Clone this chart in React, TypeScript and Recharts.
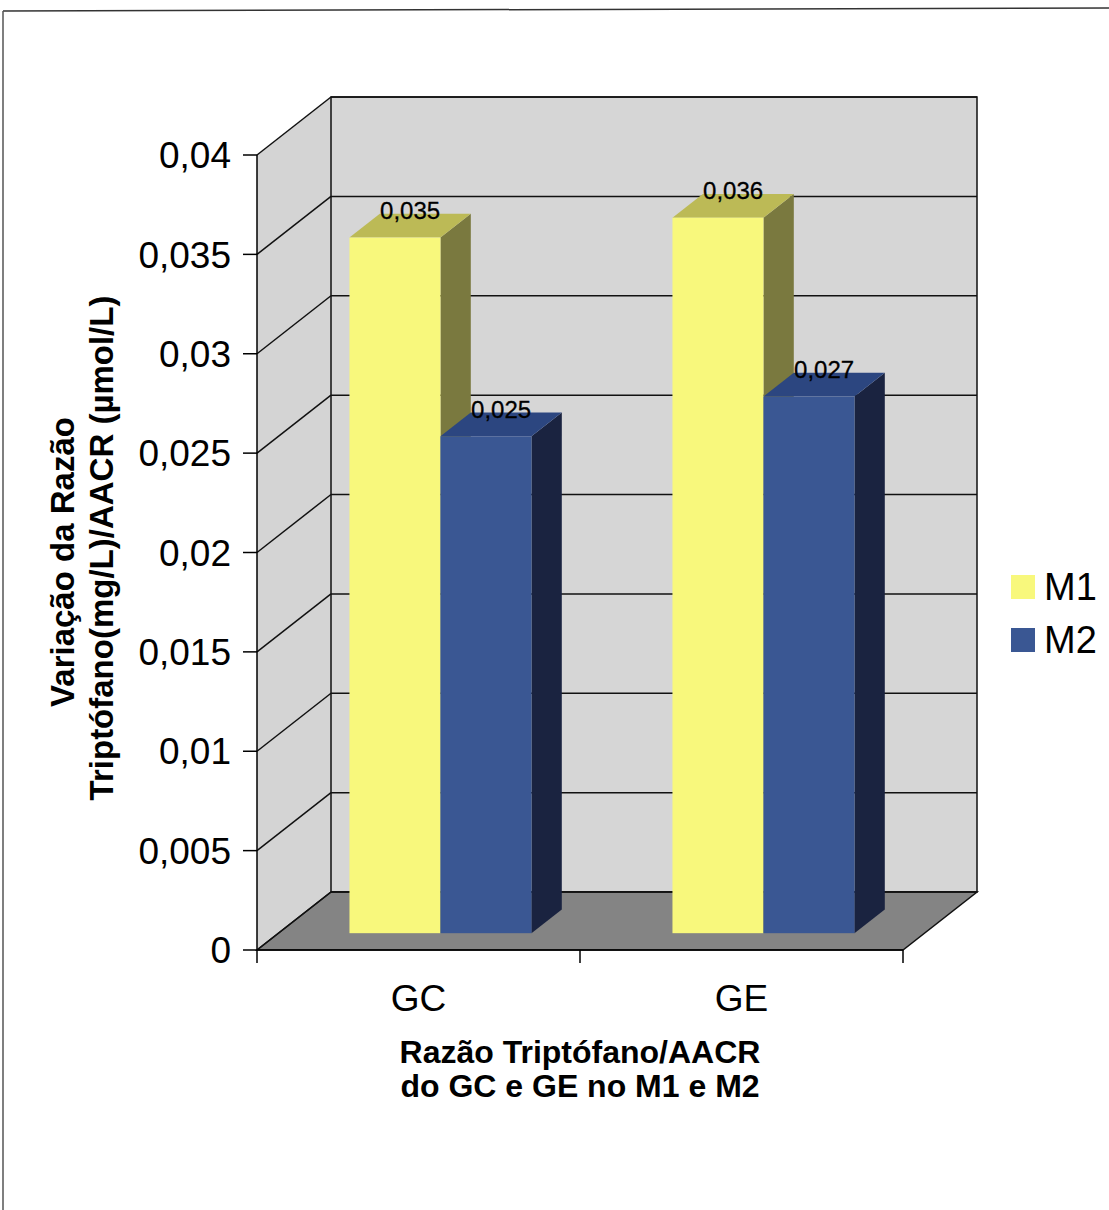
import React from "react";
import { Bar, BarChart, CartesianGrid, LabelList, Legend, XAxis, YAxis } from "recharts";

// values per group, M1 and M2
const groups = ["GC", "GE"];
const m1Values = [0.035, 0.036];
const m2Values = [0.025, 0.027];
const yTicks = [0, 0.005, 0.01, 0.015, 0.02, 0.025, 0.03, 0.035, 0.04];
const seriesNames = ["M1", "M2"];

const data = groups.map((g, i) => ({ group: g, M1: m1Values[i], M2: m2Values[i] }));

const W = 1109;
const H = 1210;
// front plane of the plot box
const PLOT = { left: 257, right: 903, top: 155, bottom: 950 };
// depth of the 3d box (back wall offset)
const DX = 74;
const DY = -58;
// bars sit a bit behind the front plane and take part of the depth
const BAR_FRONT = 0.29;
const BAR_DEPTH = 0.41;

const FONT = '"Liberation Sans", Arial, Helvetica, sans-serif';

const tones: Record<string, { front: string; top: string; side: string }> = {
  M1: { front: "#f8f87c", top: "#bcba56", side: "#7a793f" },
  M2: { front: "#3a5793", top: "#2c4680", side: "#1a2340" },
};

const fmt = (v: number) => String(v).replace(".", ",");

const Box3D = (props: any) => {
  const { x, y, width, height, tone } = props;
  if (!height) return null;
  const fx = x + BAR_FRONT * DX;
  const fy = y + BAR_FRONT * DY;
  const dx = BAR_DEPTH * DX;
  const dy = BAR_DEPTH * DY;
  const r = fx + width;
  const b = fy + height;
  return (
    <g>
      <polygon points={`${r},${fy} ${r + dx},${fy + dy} ${r + dx},${b + dy} ${r},${b}`} fill={tone.side} />
      <polygon points={`${fx},${fy} ${fx + dx},${fy + dy} ${r + dx},${fy + dy} ${r},${fy}`} fill={tone.top} />
      <rect x={fx} y={fy} width={width} height={height} fill={tone.front} />
    </g>
  );
};

const topLabel = (props: any) => {
  const vb = props.viewBox && props.viewBox.width != null ? props.viewBox : props;
  const { x, y, width } = vb;
  const cx = x + width / 2 + BAR_FRONT * DX + (BAR_DEPTH * DX) / 2;
  const by = y + BAR_FRONT * DY + BAR_DEPTH * DY + 5;
  return (
    <text x={cx} y={by} textAnchor="middle" fontSize={24} fontFamily={FONT} fill="#000" stroke="#000" strokeWidth={0.3}>
      {fmt(props.value)}
    </text>
  );
};

// each horizontal grid line is drawn on the back wall plus the diagonal on the side wall
const gridLine = (p: any) => {
  const { x1, y1, x2 } = p;
  return (
    <g key={`grid-${y1}`}>
      <line x1={x1} y1={y1} x2={x1 + DX} y2={y1 + DY} stroke="#111" strokeWidth={1.5} />
      <line x1={x1 + DX} y1={y1 + DY} x2={x2 + DX} y2={y1 + DY} stroke="#111" strokeWidth={1.5} />
    </g>
  );
};

const CategoryTick = (props: any) => {
  const { x, payload } = props;
  const half = payload.offset ?? 0;
  const last = payload.value === groups[groups.length - 1];
  return (
    <g>
      <line x1={x - half} y1={PLOT.bottom} x2={x - half} y2={PLOT.bottom + 13} stroke="#000" strokeWidth={1.5} />
      {last && (
        <line x1={x + half} y1={PLOT.bottom} x2={x + half} y2={PLOT.bottom + 13} stroke="#000" strokeWidth={1.5} />
      )}
      <text x={x} y={PLOT.bottom + 61} textAnchor="middle" fontSize={37} fontFamily={FONT} fill="#000">
        {payload.value}
      </text>
    </g>
  );
};

const XTitle = () => {
  const cx = (PLOT.left + PLOT.right) / 2;
  return (
    <text textAnchor="middle" fontSize={32} fontWeight="bold" fontFamily={FONT} fill="#000">
      <tspan x={cx} y={1063}>Razão Triptófano/AACR</tspan>
      <tspan x={cx} y={1097}>do GC e GE no M1 e M2</tspan>
    </text>
  );
};

const YTitle = () => {
  const cy1 = 562;
  const cy2 = 548;
  return (
    <g fontSize={33} fontWeight="bold" fontFamily={FONT} fill="#000">
      <text x={62} y={cy1} textAnchor="middle" dominantBaseline="central" transform={`rotate(-90 62 ${cy1})`}>
        Variação da Razão
      </text>
      <text x={101} y={cy2} textAnchor="middle" dominantBaseline="central" transform={`rotate(-90 101 ${cy2})`}>
        Triptófano(mg/L)/AACR (µmol/L)
      </text>
    </g>
  );
};

const LegendBox = (props: any) => {
  const items = props.payload && props.payload.length ? props.payload.map((p: any) => p.dataKey) : seriesNames;
  return (
    <svg width={104} height={110}>
      {items.map((k: string, i: number) => (
        <g key={k}>
          <rect x={6} y={15 + i * 53} width={24} height={24} fill={tones[k].front} />
          <text x={39} y={27 + i * 53} dominantBaseline="central" fontSize={38} fontFamily={FONT} fill="#000">
            {k}
          </text>
        </g>
      ))}
    </svg>
  );
};

const Walls = () => {
  const { left, right, top, bottom } = PLOT;
  return (
    <svg width={W} height={H} style={{ position: "absolute", left: 0, top: 0 }}>
      <rect x={0} y={0} width={W} height={H} fill="#fff" />
      <line x1={3} y1={11} x2={W} y2={8} stroke="#333" strokeWidth={1.5} />
      <line x1={3} y1={11} x2={3} y2={H} stroke="#555" strokeWidth={1.5} />
      {/* side wall */}
      <polygon
        points={`${left},${top} ${left + DX},${top + DY} ${left + DX},${bottom + DY} ${left},${bottom}`}
        fill="#d4d4d4"
      />
      {/* back wall */}
      <polygon
        points={`${left + DX},${top + DY} ${right + DX},${top + DY} ${right + DX},${bottom + DY} ${left + DX},${bottom + DY}`}
        fill="#d6d6d6"
        stroke="#111"
        strokeWidth={1.5}
      />
      {/* floor */}
      <polygon
        points={`${left},${bottom} ${right},${bottom} ${right + DX},${bottom + DY} ${left + DX},${bottom + DY}`}
        fill="#848484"
        stroke="#111"
        strokeWidth={1.5}
      />
    </svg>
  );
};

export default function App() {
  return (
    <div style={{ position: "absolute", left: 0, top: 0, width: W, height: H, background: "#fff" }}>
      <Walls />
      <div style={{ position: "absolute", left: 0, top: 0 }}>
        <BarChart
          width={W}
          height={H}
          data={data}
          margin={{ top: PLOT.top, right: W - PLOT.right, bottom: H - PLOT.bottom - 60, left: PLOT.left - 100 }}
          barGap={0}
          barSize={91}
        >
          <CartesianGrid vertical={false} horizontal={gridLine} fill="none" stroke="none" />
          <XAxis
            dataKey="group"
            height={60}
            interval={0}
            tickLine={false}
            tickSize={12}
            tickMargin={0}
            axisLine={{ stroke: "#000", strokeWidth: 1.5 }}
            tick={<CategoryTick />}
            label={<XTitle />}
          />
          <YAxis
            width={100}
            domain={[0, 0.04]}
            ticks={yTicks}
            interval={0}
            tickFormatter={fmt}
            tickSize={14}
            tickMargin={12}
            axisLine={{ stroke: "#000", strokeWidth: 1.5 }}
            tickLine={{ stroke: "#000", strokeWidth: 1.5 }}
            tick={{ fontSize: 37, fontFamily: FONT, fill: "#000" }}
            label={<YTitle />}
          />
          <Legend
            layout="horizontal"
            align="center"
            verticalAlign="middle"
            wrapperStyle={{ left: 1005, top: 560, width: 104, height: 110 }}
            content={<LegendBox />}
          />
          <Bar dataKey="M1" fill={tones.M1.front} isAnimationActive={false} shape={(p: any) => <Box3D {...p} tone={tones.M1} />}>
            <LabelList dataKey="M1" content={topLabel} />
          </Bar>
          <Bar dataKey="M2" fill={tones.M2.front} isAnimationActive={false} shape={(p: any) => <Box3D {...p} tone={tones.M2} />}>
            <LabelList dataKey="M2" content={topLabel} />
          </Bar>
        </BarChart>
      </div>
    </div>
  );
}
